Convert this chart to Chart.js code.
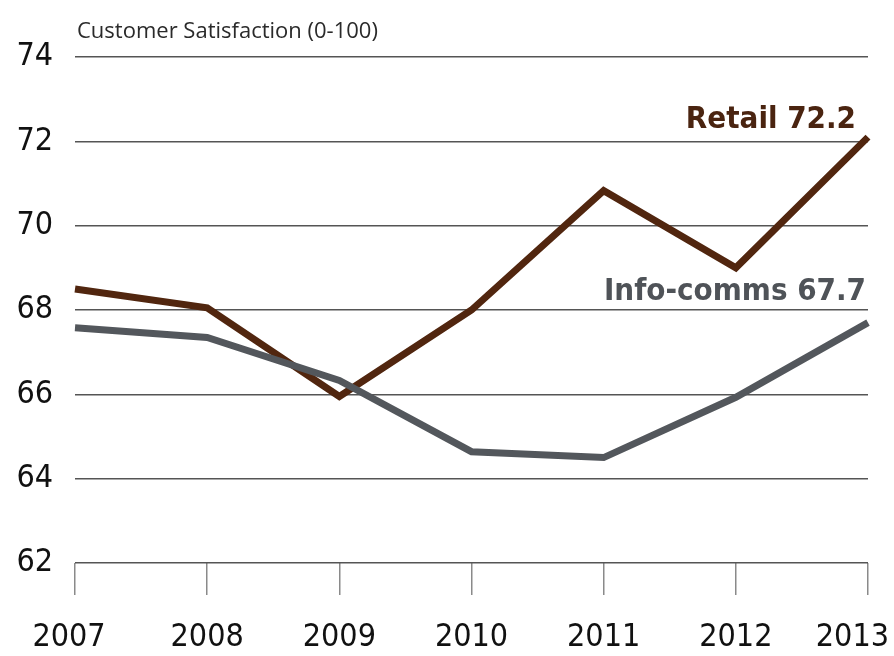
<!DOCTYPE html>
<html>
<head>
<meta charset="utf-8">
<style>
  body { margin: 0; background: #fff; }
  #wrap { width: 894px; height: 656px; position: relative; }
</style>
</head>
<body>
<div id="wrap">
  <canvas id="myChart"></canvas>
</div>

<script src="https://cdn.jsdelivr.net/npm/chart.js"></script>
<script>
  // Années et valeurs
  const years = ['2007', '2008', '2009', '2010', '2011', '2012', '2013'];
  const retail = [68.5, 68.05, 65.95, 68.0, 70.83, 69.0, 72.1];
  const infoComms = [67.58, 67.35, 66.33, 64.64, 64.5, 65.93, 67.7];
  const yTicks = [62, 64, 66, 68, 70, 72, 74];

  const retailLabel = 'Retail 72.2';
  const infoLabel = 'Info-comms 67.7';
  const axisTitle = 'Customer Satisfaction (0-100)';

  // Choix d'une police étroite parmi celles installées
  const probe = document.createElement('canvas').getContext('2d');
  function textWidth(font) {
    probe.font = font;
    return probe.measureText('2007 Retail').width;
  }
  function pickFont() {
    const mono = textWidth('36px monospace');
    if (textWidth("36px 'Liberation Sans Narrow', monospace") !== mono) {
      return { stretch: '', family: "'Liberation Sans Narrow'", scale: 1 };
    }
    if (textWidth("36px 'DejaVu Sans Condensed', monospace") !== mono) {
      return { stretch: '', family: "'DejaVu Sans Condensed'", scale: 0.89 };
    }
    if (textWidth("condensed 36px 'Noto Sans'") < textWidth("36px 'Noto Sans'") - 4) {
      return { stretch: 'condensed', family: "'Noto Sans'", scale: 1 };
    }
    if (textWidth("condensed 36px 'Open Sans'") < textWidth("36px 'Open Sans'") - 4) {
      return { stretch: 'condensed', family: "'Open Sans'", scale: 1 };
    }
    return { stretch: '', family: "'Open Sans'", scale: 0.84 };
  }
  const narrow = pickFont();
  const tickSize = Math.round(36 * narrow.scale);
  function weightOf(w) {
    return [w, narrow.stretch].filter(Boolean).join(' ') || undefined;
  }

  // La dernière année est collée au bord droit, comme sur l'original
  const edgeLabels = {
    id: 'edgeLabels',
    beforeDraw(chart) {
      const items = chart.scales.x.getLabelItems();
      const last = items[items.length - 1];
      if (last) {
        last.options.textAlign = 'right';
        last.options.translation[0] = chart.width - 5;
      }
      if (items[0]) {
        items[0].options.translation[0] -= 6;
      }
    }
  };

  // Textes dessinés sur le canvas (titre d'axe et étiquettes des séries)
  const textPlugin = {
    id: 'texts',
    afterDatasetsDraw(chart) {
      const ctx = chart.ctx;
      const area = chart.chartArea;
      ctx.save();
      ctx.fillStyle = '#2a2a2a';
      ctx.font = "22px 'Open Sans', sans-serif";
      ctx.textAlign = 'left';
      ctx.textBaseline = 'alphabetic';
      ctx.fillText(axisTitle, area.left + 2, 38);

      const infoPt = chart.getDatasetMeta(0).data[years.length - 1];
      const retailPt = chart.getDatasetMeta(1).data[years.length - 1];
      const labelSize = Math.round(31 * (narrow.scale < 1 ? 1 : 1.08));
      ctx.textAlign = 'right';
      ctx.font = weightOf('bold') + ' ' + labelSize + 'px ' + narrow.family;
      ctx.fillStyle = '#4a2410';
      ctx.fillText(retailLabel, retailPt.x - 12, retailPt.y - 9);
      ctx.fillStyle = '#4f5358';
      ctx.fillText(infoLabel, infoPt.x - 2, infoPt.y - 23);
      ctx.restore();
    }
  };

  const data = {
    labels: years,
    datasets: [
      {
        label: 'Info-comms',
        data: infoComms,
        borderColor: '#53575c',
        borderWidth: 7,
        pointRadius: 0,
        tension: 0
      },
      {
        label: 'Retail',
        data: retail,
        borderColor: '#51260f',
        borderWidth: 7,
        pointRadius: 0,
        tension: 0
      }
    ]
  };

  const config = {
    type: 'line',
    data: data,
    options: {
      responsive: true,
      maintainAspectRatio: false,
      animation: false,
      layout: { padding: { top: 57, right: 26, left: 0, bottom: 0 } },
      plugins: {
        legend: { display: false },
        title: { display: false },
        tooltip: { enabled: false }
      },
      scales: {
        x: {
          offset: false,
          grid: {
            drawOnChartArea: false,
            drawTicks: true,
            tickLength: 32,
            color: '#8a8a8a',
            lineWidth: 1.5
          },
          border: { display: false },
          ticks: {
            color: '#111',
            font: { family: narrow.family, size: tickSize, weight: weightOf('') },
            padding: 23,
            maxRotation: 0,
            autoSkip: false
          },
          afterFit(scale) {
            scale.height = 93;
            scale.paddingLeft = 0;
            scale.paddingRight = 0;
          }
        },
        y: {
          min: 62,
          max: 74,
          afterBuildTicks(scale) {
            scale.ticks = yTicks.map(v => ({ value: v }));
          },
          grid: {
            drawTicks: false,
            color: '#555',
            lineWidth: 1.5
          },
          border: { display: false },
          ticks: {
            color: '#111',
            font: { family: narrow.family, size: tickSize, weight: weightOf('') },
            padding: 22
          },
          afterFit(scale) {
            scale.width = 75;
          }
        }
      }
    },
    plugins: [edgeLabels, textPlugin]
  };

  const myChart = new Chart(document.getElementById('myChart'), config);
</script>
</body>
</html>
